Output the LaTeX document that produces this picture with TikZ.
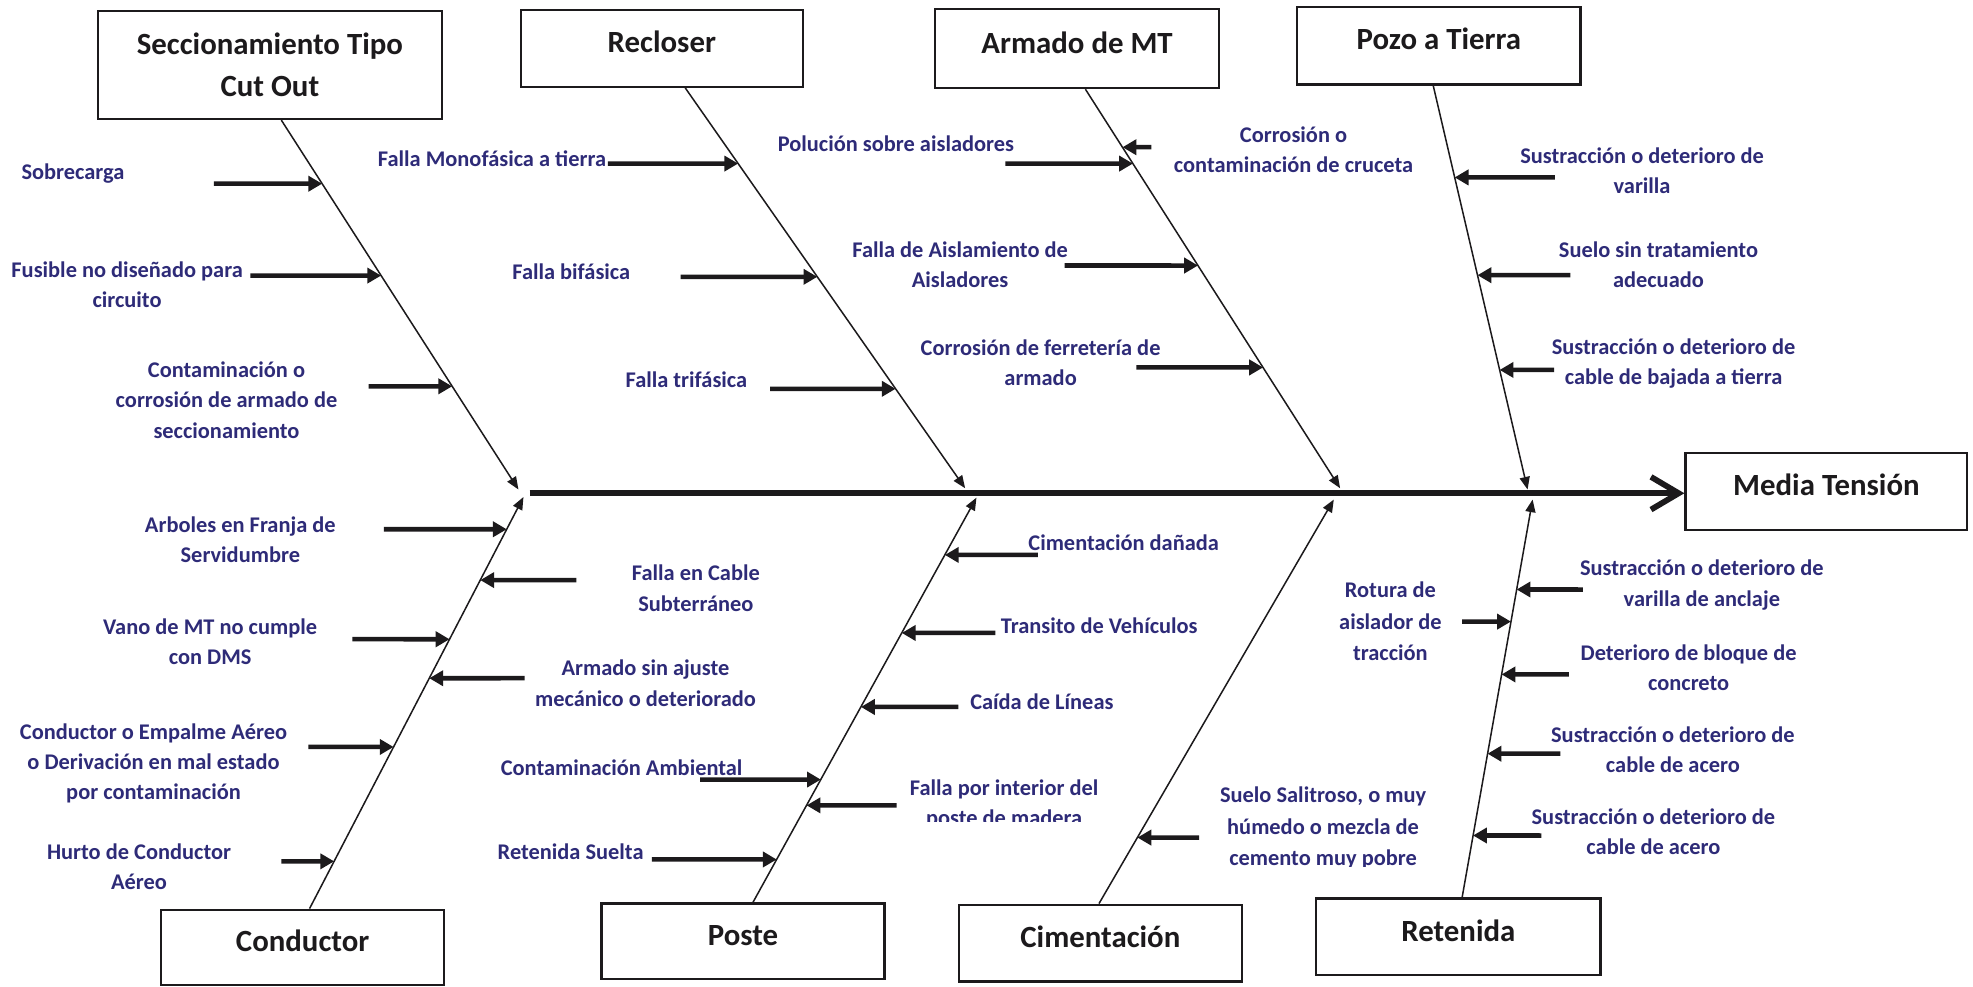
\documentclass[tikz,border=0pt]{standalone}
\usepackage{fontspec}
\setmainfont{Carlito}
\usetikzlibrary{arrows.meta}
\definecolor{causeink}{RGB}{46,43,120}
\definecolor{lineink}{RGB}{28,26,28}

% cause arrow: start point (#2,#3), runs horizontally until it meets bone #4
\newcommand\causearrow[4]{%
  \coordinate (#1s) at (#2,#3);
  \coordinate (#1h) at (#2+10,#3);
  \coordinate (#1t) at (intersection of #1s--#1h and #4a--#4b);
  \draw[feeder] (#1s) -- (#1t);}

\begin{document}
\begin{tikzpicture}[x=1pt,y=-1pt,
  catbox/.style={draw=lineink, line width=1.8pt, fill=white, inner sep=0pt,
    align=center, text=lineink, font=\fontsize{24.5}{33.5}\selectfont\bfseries},
  oneline/.style={text height=17pt, text depth=10pt},
  cause/.style={inner sep=0pt, align=center, text=causeink,
    font=\fontsize{17.8}{24}\selectfont\bfseries},
  bone/.style={draw=lineink, line width=1.2pt, -{Triangle[length=10pt,width=8pt]}},
  feeder/.style={draw=lineink, line width=3.6pt, -{Triangle[length=11pt,width=12pt]}},
  spine/.style={draw=lineink, line width=4.6pt, -{Straight Barb[length=22pt,width=26pt]}}
]
\useasboundingbox (0,0) rectangle (1568,784);
\fill[white] (0,0) rectangle (1568,784);

% ---- category boxes ----
\node[catbox, minimum width=273pt, minimum height=86pt] (secc) at (214.5,51.6) {Seccionamiento Tipo\\Cut Out};
\node[catbox, oneline, minimum width=224pt, minimum height=61pt] (recl) at (526,38.5) {Recloser};
\node[catbox, oneline, minimum width=226pt, minimum height=62.6pt] (armt) at (856,38.7) {Armado de MT};
\node[catbox, oneline, minimum width=225pt, minimum height=61.7pt] (pozo) at (1143.5,36.2) {Pozo a Tierra};
\node[catbox, oneline, minimum width=224pt, minimum height=61pt] (mt) at (1451.5,390.5) {Media Tensión};
\node[catbox, oneline, minimum width=225pt, minimum height=60pt] (cond) at (240.5,753) {Conductor};
\node[catbox, oneline, minimum width=225pt, minimum height=60pt] (poste) at (590.5,748) {Poste};
\node[catbox, oneline, minimum width=225pt, minimum height=61pt] (cime) at (874.5,749.5) {Cimentación};
\node[catbox, oneline, minimum width=226pt, minimum height=61pt] (rete) at (1159,744.5) {Retenida};

% ---- spine ----
\coordinate (spA) at (421,392);
\draw[spine] (spA) -- (spA -| mt.west);

% ---- bones ----
\path (secc.south) ++(9.1,0) coordinate (secca);
\path (recl.south) ++(18.6,0) coordinate (recla);
\path (armt.south) ++(6.6,0) coordinate (armta);
\path (pozo.south) ++(-4.5,0) coordinate (pozoa);
\path (cond.north) ++(5.5,0) coordinate (conda);
\path (poste.north) ++(7.9,0) coordinate (postea);
\path (cime.north) ++(-1.1,0) coordinate (cimea);
\path (rete.north) ++(3,0) coordinate (retea);
\coordinate (seccb) at (412,389);
\coordinate (reclb) at (767,388);
\coordinate (armtb) at (1065,388);
\coordinate (pozob) at (1214,389);
\coordinate (condb) at (416,395);
\coordinate (posteb) at (776,395.5);
\coordinate (cimeb) at (1060,397);
\coordinate (reteb) at (1218,397);
\foreach \b in {secc,recl,armt,pozo,cond,poste,cime,rete}
  \draw[bone] (\b a) -- (\b b);

% ---- causes: Seccionamiento Tipo Cut Out ----
\node[cause] (l1) at (58,138) {Sobrecarga};
\node[cause] (l2) at (101,226) {Fusible no diseñado para\\circuito};
\node[cause] (l3) at (180,318) {Contaminación o\\corrosión de armado de\\seccionamiento};
\causearrow{f1}{170}{146}{secc}
\causearrow{f2}{199}{219}{secc}
\causearrow{f3}{293}{307}{secc}

% ---- causes: Recloser ----
\node[cause] (l4) at (391,126) {Falla Monofásica a tierra};
\node[cause] (l5) at (454,216) {Falla bifásica};
\node[cause] (l6) at (545.5,302) {Falla trifásica};
\causearrow{f4}{483}{130}{recl}
\causearrow{f5}{541}{220}{recl}
\causearrow{f6}{612}{309}{recl}

% ---- causes: Armado de MT ----
\node[cause] (l7) at (712,114) {Polución sobre aisladores};
\node[cause] (l8) at (1028,119) {Corrosión o\\contaminación de cruceta};
\node[cause] (l9) at (763,210.5) {Falla de Aislamiento de\\Aisladores};
\node[cause] (l10) at (827,288.5) {Corrosión de ferretería de\\armado};
\causearrow{f7}{799}{130}{armt}
\causearrow{f8}{915}{117}{armt}
\causearrow{f9}{846}{211}{armt}
\causearrow{f10}{903}{292}{armt}

% ---- causes: Pozo a Tierra ----
\node[cause] (l11) at (1305,135.5) {Sustracción o deterioro de\\varilla};
\node[cause] (l12) at (1318,210.5) {Suelo sin tratamiento\\adecuado};
\node[cause] (l13) at (1330,289) {Sustracción o deterioro de\\cable de bajada a tierra};
\causearrow{f11}{1235.6}{141}{pozo}
\causearrow{f12}{1248}{218.7}{pozo}
\causearrow{f13}{1235}{294}{pozo}

% ---- causes: Conductor ----
\node[cause] (l14) at (191,429) {Arboles en Franja de\\Servidumbre};
\node[cause] (l15) at (553,467.5) {Falla en Cable\\Subterráneo};
\node[cause] (l16) at (167,510) {Vano de MT no cumple\\con DMS};
\node[cause] (l17) at (513,543) {Armado sin ajuste\\mecánico o deteriorado};
\node[cause] (l18) at (122,606.5) {Conductor o Empalme Aéreo\\o Derivación en mal estado\\por contaminación};
\node[cause] (l19) at (110.5,689) {Hurto de Conductor\\Aéreo};
\causearrow{f14}{305}{420.6}{cond}
\causearrow{f15}{458}{461}{cond}
\causearrow{f16}{280}{508}{cond}
\causearrow{f17}{417}{539}{cond}
\causearrow{f18}{245}{593.6}{cond}
\causearrow{f19}{223.6}{684.5}{cond}

% ---- causes: Poste ----
\node[cause] (l20) at (893,431) {Cimentación dañada};
\node[cause] (l21) at (873.6,497) {Transito de Vehículos};
\node[cause] (l22) at (828,558) {Caída de Líneas};
\node[cause] (l23) at (494,610) {Contaminación Ambiental};
\begin{scope}
  % second line is cut off at its lower half
  \clip (690,600) rectangle (900,652.5);
  \node[cause] (l24) at (798,639) {Falla por interior del\\poste de madera};
\end{scope}
\node[cause] (l25) at (453.5,677) {Retenida Suelta};
\causearrow{f20}{824.8}{441}{poste}
\causearrow{f21}{791}{503}{poste}
\causearrow{f22}{761.6}{561.8}{poste}
\causearrow{f23}{556.5}{619.5}{poste}
\causearrow{f24}{712.5}{640}{poste}
\causearrow{f25}{518}{683}{poste}

% ---- causes: Cimentación ----
\begin{scope}
  % descenders of the last line are cut off
  \clip (950,600) rectangle (1150,688.5);
  \node[cause, font=\fontsize{17.8}{25}\selectfont\bfseries] (l26) at (1051.5,658) {Suelo Salitroso, o muy\\húmedo o mezcla de\\cemento muy pobre};
\end{scope}
\causearrow{f26}{953}{665.6}{cime}

% ---- causes: Retenida ----
\node[cause, font=\fontsize{17.8}{25}\selectfont\bfseries] (l27) at (1105,494) {Rotura de\\aislador de\\tracción};
\node[cause] (l28) at (1352.5,465) {Sustracción o deterioro de\\varilla de anclaje};
\node[cause] (l29) at (1342,530.5) {Deterioro de bloque de\\concreto};
\node[cause] (l30) at (1329.5,596) {Sustracción o deterioro de\\cable de acero};
\node[cause] (l31) at (1314,661) {Sustracción o deterioro de\\cable de acero};
\causearrow{f27}{1162}{494}{rete}
\causearrow{f28}{1258}{468.5}{rete}
\causearrow{f29}{1246.8}{536}{rete}
\causearrow{f30}{1240}{599}{rete}
\causearrow{f31}{1225}{664}{rete}
\end{tikzpicture}
\end{document}
